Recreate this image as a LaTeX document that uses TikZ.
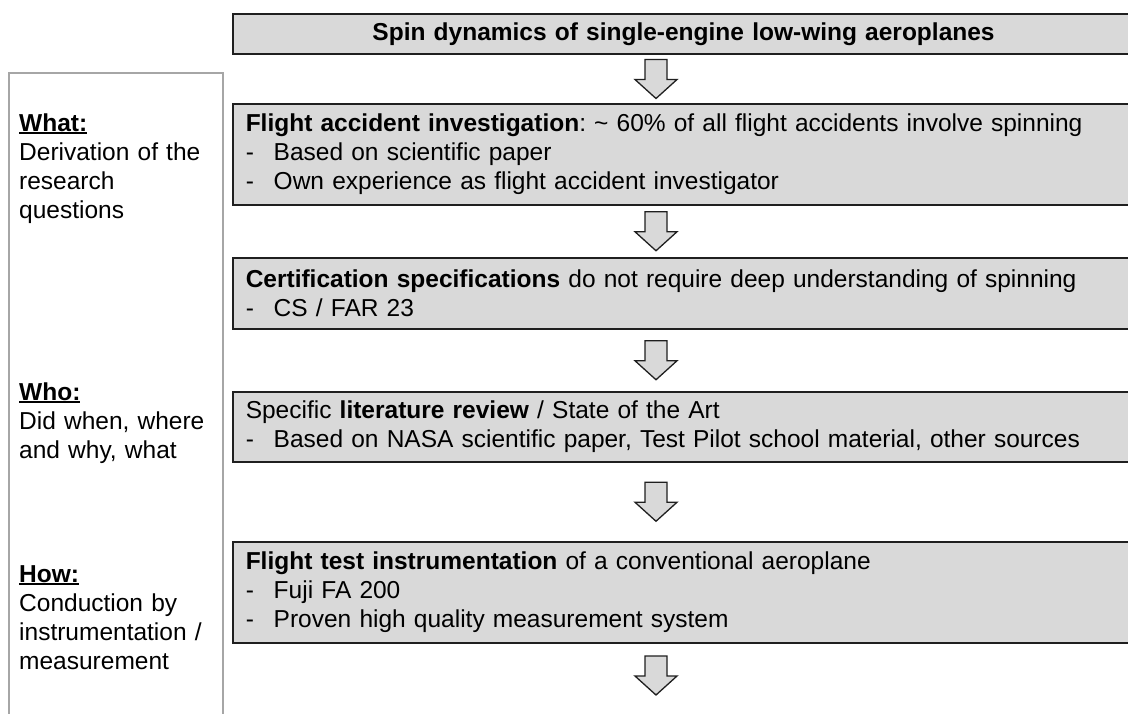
\documentclass[tikz,border=0pt]{standalone}
\usepackage{fontspec}
\setmainfont{Liberation Sans}
\usetikzlibrary{calc}

\definecolor{boxgray}{HTML}{D9D9D9}
\definecolor{framegray}{HTML}{A6A6A6}
\definecolor{edgedark}{HTML}{1F1F1F}

\newlength\headwd
\newcommand\sidehead[1]{\settowidth\headwd{\textbf{#1}}\textbf{#1}\hspace{-\headwd}\rule[-3pt]{\headwd}{2pt}}
\newcommand\itm{\\\makebox[28pt][l]{-}}
\frenchspacing

\tikzset{
  basefont/.style={font=\fontsize{24.5}{29}\selectfont},
  stage/.style={draw=edgedark, line width=1.5pt, fill=boxgray, anchor=north west,
    text width=875pt, inner xsep=13pt, inner ysep=0pt, align=left, basefont},
  side/.style={anchor=base west, inner sep=0pt, text width=204pt, align=left, basefont},
  downarrow/.pic={
    \draw[edgedark, line width=1.3pt, fill=boxgray, line join=miter]
      (-11,-19.5) -- (11,-19.5) -- (11,0.5) -- (21,0.5) -- (0,19.5)
      -- (-21,0.5) -- (-11,0.5) -- cycle;
  }
}

\begin{document}
\begin{tikzpicture}[x=1pt, y=-1pt]
\useasboundingbox (0,0) rectangle (1128,713);

% left frame with the three questions
\draw[framegray, line width=2.5pt] (9,730) -- (9,73) -- (223,73) -- (223,730);
\node[side] (what) at (19,131) {\sidehead{What:}\\Derivation of the\\research\\questions};
\node[side] (who) at (19,400) {\sidehead{Who:}\\Did when, where\\and why, what};
\node[side] (how) at (19,582) {\sidehead{How:}\\Conduction by\\instrumentation /\\measurement};

% main flow
\node[stage, minimum height=40pt, align=center, line width=2pt,
  font={\fontsize{24.5}{29}\selectfont\bfseries}] (title) at (232,13)
  {Spin dynamics of single-engine low-wing aeroplanes};
\node[stage, minimum height=101pt] (accident) at (232,103)
  {\textbf{Flight accident investigation}: \textasciitilde{} 60\% of all flight accidents involve spinning
   \itm Based on scientific paper
   \itm Own experience as flight accident investigator};
\node[stage, minimum height=71pt] (certif) at (232,257)
  {\textbf{Certification specifications} do not require deep understanding of spinning
   \itm CS / FAR 23};
\node[stage, minimum height=70pt] (review) at (232,391)
  {Specific \textbf{literature review} / State of the Art
   \itm Based on NASA scientific paper, Test Pilot school material, other sources};
\node[stage, minimum height=101pt] (instr) at (232,541)
  {\textbf{Flight test instrumentation} of a conventional aeroplane
   \itm Fuji FA 200
   \itm Proven high quality measurement system};

% block arrows between the stages
\coordinate (ax) at (656,0);
\coordinate (m1) at ($(title.south)!.5!(accident.north)$);
\coordinate (m2) at ($(accident.south)!.5!(certif.north)$);
\coordinate (m3) at ($(certif.south)!.5!(review.north)$);
\coordinate (m4) at ($(review.south)!.5!(instr.north)$);
\coordinate (m5) at ($(instr.south)+(0,32)$);
\foreach \m in {m1,m2,m3,m4,m5}
  \pic at (ax |- \m) {downarrow};
\end{tikzpicture}
\end{document}
